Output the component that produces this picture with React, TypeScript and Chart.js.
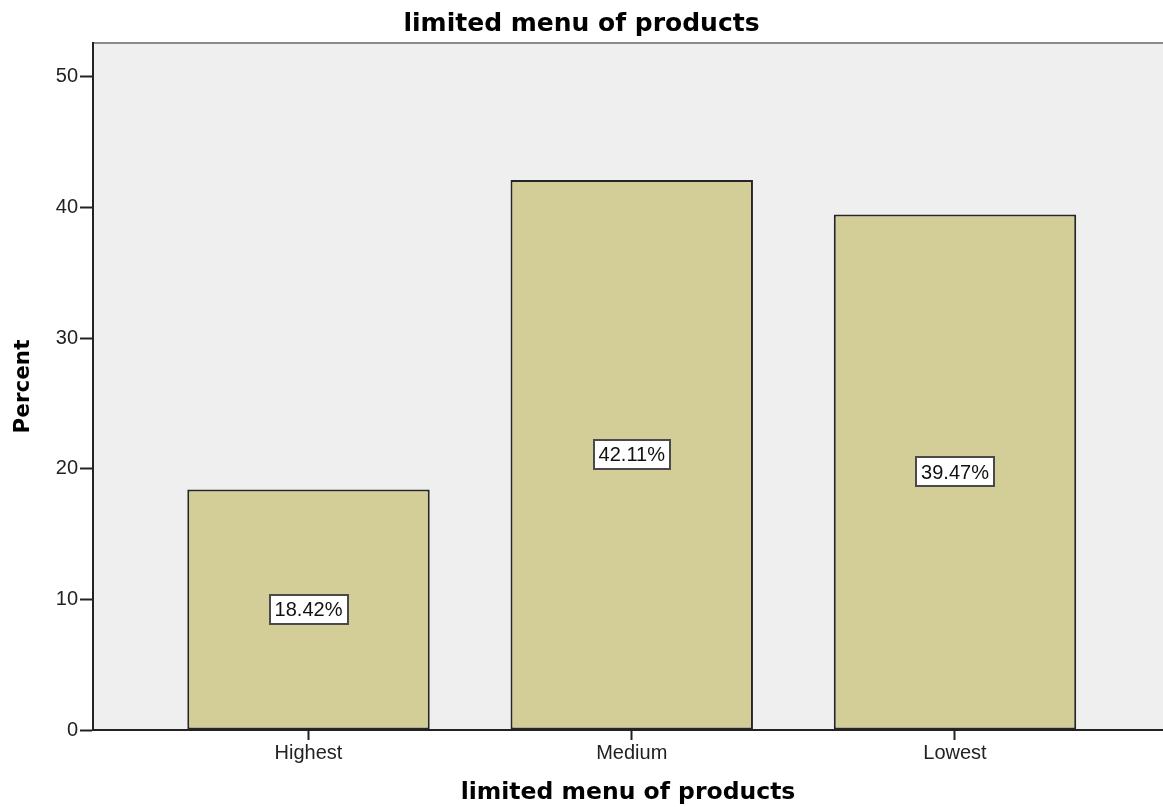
import React, { useEffect, useRef } from "react";
import { Chart, registerables } from "chart.js";

Chart.register(...registerables);

const categories = ["Highest", "Medium", "Lowest"];
const percents = [18.42, 42.11, 39.47];
const yTickValues = [0, 10, 20, 30, 40, 50];
const chartTitle = "limited menu of products";
const xAxisTitle = "limited menu of products";
const yAxisTitle = "Percent";

const W = 1163;
const H = 807;
const PLOT_LEFT = 93;
const PLOT_BOTTOM_SPACE = 77;

// plot background and the thin gray frame line along the top
const plotBackground = {
  id: "plotBackground",
  beforeDraw(chart: any) {
    const { ctx, chartArea } = chart;
    ctx.save();
    ctx.fillStyle = "#efefef";
    ctx.fillRect(chartArea.left, chartArea.top, chartArea.right - chartArea.left, chartArea.bottom - chartArea.top);
    ctx.strokeStyle = "#8a8a8a";
    ctx.lineWidth = 2;
    ctx.beginPath();
    ctx.moveTo(chartArea.left, chartArea.top);
    ctx.lineTo(chartArea.right, chartArea.top);
    ctx.stroke();
    ctx.restore();
  },
};

// boxed percentage labels in the middle of each bar
const boxedLabels = {
  id: "boxedLabels",
  afterDatasetsDraw(chart: any) {
    const { ctx } = chart;
    const meta = chart.getDatasetMeta(0);
    ctx.save();
    ctx.font = '20px "Liberation Sans", Arial, sans-serif';
    ctx.textAlign = "center";
    ctx.textBaseline = "middle";
    meta.data.forEach((bar: any, i: number) => {
      const text = percents[i].toFixed(2) + "%";
      const cx = bar.x;
      const cy = (bar.y + bar.base) / 2;
      const tw = ctx.measureText(text).width;
      const bw = Math.round(tw + 10);
      const bh = 29;
      const x0 = Math.round(cx - bw / 2);
      const y0 = Math.round(cy - bh / 2);
      ctx.fillStyle = "#ffffff";
      ctx.fillRect(x0, y0, bw, bh);
      ctx.strokeStyle = "#4a4a4a";
      ctx.lineWidth = 2;
      ctx.strokeRect(x0, y0, bw, bh);
      ctx.fillStyle = "#111111";
      ctx.fillText(text, cx, cy + 1);
    });
    ctx.restore();
  },
};

export default function App() {
  const canvasRef = useRef<HTMLCanvasElement | null>(null);

  useEffect(() => {
    document.body.style.margin = "0";
    const canvas = canvasRef.current;
    if (!canvas) return;
    const chart = new Chart(canvas, {
      type: "bar",
      data: {
        datasets: [
          {
            data: percents.map((v, i) => ({ x: i, y: v })),
            backgroundColor: "#d3ce98",
            borderColor: "#262626",
            borderWidth: 2,
            borderSkipped: false,
            barPercentage: 0.75,
            categoryPercentage: 1,
          },
        ],
      },
      options: {
        responsive: false,
        animation: false,
        devicePixelRatio: 1,
        layout: { padding: 0 },
        plugins: {
          legend: { display: false },
          tooltip: { enabled: false },
          title: {
            display: true,
            text: chartTitle,
            color: "#000",
            font: { family: '"DejaVu Sans", Verdana, sans-serif', size: 25, weight: "bold" },
            padding: { top: 9, bottom: 4 },
          },
        },
        scales: {
          x: {
            type: "linear",
            min: -0.6667,
            max: 2.6435,
            offset: false,
            afterBuildTicks: (scale: any) => {
              scale.ticks = categories.map((_, i) => ({ value: i }));
            },
            afterFit: (scale: any) => {
              scale.height = PLOT_BOTTOM_SPACE;
            },
            ticks: {
              autoSkip: false,
              maxRotation: 0,
              color: "#222",
              padding: 1,
              font: { family: '"Liberation Sans", Arial, sans-serif', size: 20 },
              callback: (v: any) => categories[v as number] ?? "",
            },
            grid: {
              display: true,
              offset: false,
              drawOnChartArea: false,
              drawTicks: true,
              tickLength: 10,
              tickWidth: 2,
              color: "#222",
            },
            border: { display: true, color: "#222", width: 2 },
            title: {
              display: true,
              text: xAxisTitle,
              color: "#000",
              font: { family: '"DejaVu Sans", Verdana, sans-serif', size: 23.5, weight: "bold" },
              padding: { top: 12, bottom: 0 },
            },
          },
          y: {
            min: 0,
            max: 52.6,
            afterBuildTicks: (scale: any) => {
              scale.ticks = yTickValues.map((v) => ({ value: v }));
            },
            afterFit: (scale: any) => {
              scale.width = PLOT_LEFT;
            },
            ticks: {
              color: "#222",
              padding: 2,
              font: { family: '"Liberation Sans", Arial, sans-serif', size: 20 },
            },
            grid: {
              display: true,
              drawOnChartArea: false,
              drawTicks: true,
              tickLength: 13,
              tickWidth: 2,
              color: "#222",
            },
            border: { display: true, color: "#222", width: 2 },
            title: {
              display: true,
              text: yAxisTitle,
              color: "#000",
              font: { family: '"DejaVu Sans", Verdana, sans-serif', size: 21.5, weight: "bold" },
              padding: { top: 11, bottom: 0 },
            },
          },
        },
      },
      plugins: [plotBackground, boxedLabels],
    } as any);
    return () => chart.destroy();
  }, []);

  return (
    <div style={{ width: W, height: H, overflow: "hidden" }}>
      <canvas ref={canvasRef} width={W} height={H} style={{ display: "block" }} />
    </div>
  );
}
